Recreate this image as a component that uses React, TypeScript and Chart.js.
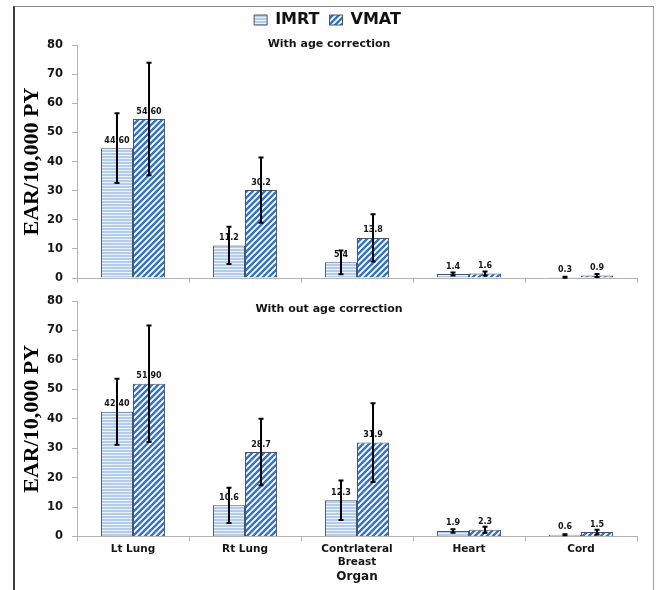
import React, { useEffect, useRef } from 'react';
import { Chart, registerables } from 'chart.js';

Chart.register(...registerables);

// ---------- data ----------
const organs = [['Lt Lung'], ['Rt Lung'], ['Contrlateral', 'Breast'], ['Heart'], ['Cord']];
const seriesNames = ['IMRT', 'VMAT'];

const imrtWith = [44.6, 11.2, 5.4, 1.4, 0.3];
const vmatWith = [54.6, 30.2, 13.8, 1.6, 0.9];
const imrtWithErr = [12.0, 6.4, 4.1, 0.5, 0.2];
const vmatWithErr = [19.3, 11.2, 8.1, 0.7, 0.5];
const imrtWithLabels = ['44.60', '11.2', '5.4', '1.4', '0.3'];
const vmatWithLabels = ['54.60', '30.2', '13.8', '1.6', '0.9'];

const imrtWithout = [42.4, 10.6, 12.3, 1.9, 0.6];
const vmatWithout = [51.9, 28.7, 31.9, 2.3, 1.5];
const imrtWithoutErr = [11.2, 6.0, 6.7, 0.6, 0.2];
const vmatWithoutErr = [19.8, 11.3, 13.4, 1.0, 0.8];
const imrtWithoutLabels = ['42.40', '10.6', '12.3', '1.9', '0.6'];
const vmatWithoutLabels = ['51.90', '28.7', '31.9', '2.3', '1.5'];

const panelTitles = ['With age correction', 'With out age correction'];
const yAxisTitle = 'EAR/10,000 PY';
const xAxisTitle = 'Organ';
const yMin = 0;
const yMax = 80;
const yStep = 10;

// ---------- styling helpers ----------
const AXIS_COLOR = '#b3b3b3';
const TEXT_COLOR = '#151515';
const SANS = '"DejaVu Sans", sans-serif';
const SERIF = '"Liberation Serif", "Times New Roman", serif';

function makeHPattern(ctx: CanvasRenderingContext2D) {
  const c = document.createElement('canvas');
  c.width = 4;
  c.height = 3;
  const g = c.getContext('2d')!;
  g.fillStyle = '#b3cbec';
  g.fillRect(0, 0, 4, 3);
  g.fillStyle = '#eef4fc';
  g.fillRect(0, 2, 4, 1);
  return ctx.createPattern(c, 'repeat')!;
}

function makeDPattern(ctx: CanvasRenderingContext2D) {
  const s = 6;
  const c = document.createElement('canvas');
  c.width = s;
  c.height = s;
  const g = c.getContext('2d')!;
  g.fillStyle = '#ffffff';
  g.fillRect(0, 0, s, s);
  g.strokeStyle = '#3373c4';
  g.lineWidth = 2.4;
  g.beginPath();
  g.moveTo(-1, s + 1);
  g.lineTo(s + 1, -1);
  g.moveTo(-1, 1);
  g.lineTo(1, -1);
  g.moveTo(s - 1, s + 1);
  g.lineTo(s + 1, s - 1);
  g.stroke();
  return ctx.createPattern(c, 'repeat')!;
}

function makePanelPlugins(title: string, dy: number) {
  const panelTitle = {
    id: 'panelTitle',
    afterDraw(chart: any) {
      const { ctx, chartArea } = chart;
      ctx.save();
      ctx.font = `bold 11px ${SANS}`;
      ctx.fillStyle = TEXT_COLOR;
      ctx.textAlign = 'center';
      ctx.textBaseline = 'middle';
      ctx.fillText(title, chartArea.left + chartArea.width * 0.45, chartArea.top + dy);
      ctx.restore();
    },
  };
  const barExtras = {
    id: 'barExtras',
    afterDatasetsDraw(chart: any) {
      const { ctx } = chart;
      const yScale = chart.scales.y;
      ctx.save();
      // value labels
      ctx.font = `bold 8px ${SANS}`;
      ctx.fillStyle = TEXT_COLOR;
      ctx.textAlign = 'center';
      ctx.textBaseline = 'middle';
      chart.data.datasets.forEach((ds: any, di: number) => {
        const meta = chart.getDatasetMeta(di);
        meta.data.forEach((bar: any, i: number) => {
          ctx.fillText(ds.valueLabels[i], bar.x, bar.y - 7.5);
        });
      });
      // error bars
      ctx.strokeStyle = '#000000';
      ctx.lineWidth = 2;
      chart.data.datasets.forEach((ds: any, di: number) => {
        const meta = chart.getDatasetMeta(di);
        meta.data.forEach((bar: any, i: number) => {
          const v = ds.data[i];
          const e = ds.errors[i];
          const yt = yScale.getPixelForValue(v + e);
          const yb = yScale.getPixelForValue(Math.max(0, v - e));
          ctx.beginPath();
          ctx.moveTo(bar.x, yt);
          ctx.lineTo(bar.x, yb);
          ctx.moveTo(bar.x - 2.5, yt);
          ctx.lineTo(bar.x + 2.5, yt);
          ctx.moveTo(bar.x - 2.5, yb);
          ctx.lineTo(bar.x + 2.5, yb);
          ctx.stroke();
        });
      });
      ctx.restore();
    },
  };
  return [barExtras, panelTitle];
}

function buildConfig(
  ctx: CanvasRenderingContext2D,
  p: {
    imrt: number[];
    vmat: number[];
    imrtErr: number[];
    vmatErr: number[];
    imrtLbl: string[];
    vmatLbl: string[];
    title: string;
    titleDy: number;
    top: boolean;
  }
): any {
  const hp = makeHPattern(ctx);
  const dp = makeDPattern(ctx);
  const padLeft = p.top ? 18 : 14;
  const yScale = {
    min: yMin,
    max: yMax,
    ticks: {
      stepSize: yStep,
      padding: 9,
      color: TEXT_COLOR,
      font: { family: SANS, weight: 'bold', size: 11.5 },
    },
    grid: { drawOnChartArea: false, drawTicks: true, tickLength: 5, color: AXIS_COLOR },
    border: { display: true, color: AXIS_COLOR, width: 1 },
    title: {
      display: true,
      text: yAxisTitle,
      color: '#000',
      font: { family: SERIF, weight: 'bold', size: 22 },
      padding: { top: 5 - (padLeft - 14), bottom: 0 },
    },
    afterFit: (s: any) => {
      s.width = 77 - padLeft;
    },
  };
  const scales: any = {
    x: {
      offset: true,
      ticks: p.top
        ? { display: false }
        : {
            display: true,
            padding: 1,
            color: TEXT_COLOR,
            maxRotation: 0,
            autoSkip: false,
            font: { family: SANS, weight: 'bold', size: 10.5, lineHeight: 13 / 10.5 },
          },
      grid: { offset: true, drawOnChartArea: false, drawTicks: true, tickLength: 5, color: AXIS_COLOR },
      border: { display: true, color: AXIS_COLOR, width: 1 },
      title: p.top
        ? { display: false }
        : {
            display: true,
            text: xAxisTitle,
            color: TEXT_COLOR,
            font: { family: SANS, weight: 'bold', size: 12, lineHeight: 15 / 12 },
            padding: 0,
          },
    },
    y: yScale,
  };
  if (p.top) {
    scales.x2 = {
      type: 'category',
      position: 'top',
      display: true,
      grid: { display: false, drawTicks: false },
      ticks: { display: false },
      border: { display: false },
      afterFit: (s: any) => {
        s.height = 7;
      },
    };
  }
  return {
    type: 'bar',
    data: {
      labels: organs,
      datasets: [
        {
          label: seriesNames[0],
          data: p.imrt,
          errors: p.imrtErr,
          valueLabels: p.imrtLbl,
          backgroundColor: hp,
          borderColor: '#46556b',
          borderWidth: 1,
          categoryPercentage: 0.572,
          barPercentage: 1,
        },
        {
          label: seriesNames[1],
          data: p.vmat,
          errors: p.vmatErr,
          valueLabels: p.vmatLbl,
          backgroundColor: dp,
          borderColor: '#46556b',
          borderWidth: 1,
          categoryPercentage: 0.572,
          barPercentage: 1,
        },
      ],
    },
    options: {
      responsive: false,
      animation: false,
      events: [],
      layout: p.top
        ? { padding: { top: 2, left: padLeft, right: 22, bottom: 3 } }
        : { padding: { top: 16, left: padLeft, right: 22, bottom: 5.5 } },
      plugins: {
        legend: {
          display: p.top,
          position: 'top',
          labels: {
            boxWidth: 13,
            boxHeight: 10,
            padding: 10,
            color: '#111',
            font: { family: SANS, weight: 'bold', size: 16 },
          },
        },
        tooltip: { enabled: false },
        title: { display: false },
      },
      scales,
    },
    plugins: makePanelPlugins(p.title, p.titleDy),
  };
}

export default function App() {
  const topRef = useRef<HTMLCanvasElement>(null);
  const botRef = useRef<HTMLCanvasElement>(null);

  useEffect(() => {
    const tctx = topRef.current!.getContext('2d')!;
    const bctx = botRef.current!.getContext('2d')!;
    const c1 = new Chart(
      tctx,
      buildConfig(tctx, {
        imrt: imrtWith,
        vmat: vmatWith,
        imrtErr: imrtWithErr,
        vmatErr: vmatWithErr,
        imrtLbl: imrtWithLabels,
        vmatLbl: vmatWithLabels,
        title: panelTitles[0],
        titleDy: -1,
        top: true,
      })
    );
    const c2 = new Chart(
      bctx,
      buildConfig(bctx, {
        imrt: imrtWithout,
        vmat: vmatWithout,
        imrtErr: imrtWithoutErr,
        vmatErr: vmatWithoutErr,
        imrtLbl: imrtWithoutLabels,
        vmatLbl: vmatWithoutLabels,
        title: panelTitles[1],
        titleDy: 8,
        top: false,
      })
    );
    return () => {
      c1.destroy();
      c2.destroy();
    };
  }, []);

  return (
    <div
      style={{
        position: 'absolute',
        left: 0,
        top: 0,
        width: 659,
        height: 590,
        overflow: 'hidden',
        background: '#ffffff',
      }}
    >
      <div
        style={{
          position: 'absolute',
          left: 13,
          top: 6,
          width: 641,
          height: 600,
          borderLeft: '2px solid #3c3c3c',
          borderTop: '1px solid #8a8a8a',
          borderRight: '1px solid #9a9a9a',
          boxSizing: 'border-box',
        }}
      />
      <canvas
        ref={topRef}
        width={659}
        height={294}
        style={{ position: 'absolute', left: 0, top: 0, width: 659, height: 294 }}
      />
      <canvas
        ref={botRef}
        width={659}
        height={305}
        style={{ position: 'absolute', left: 0, top: 285, width: 659, height: 305 }}
      />
    </div>
  );
}
